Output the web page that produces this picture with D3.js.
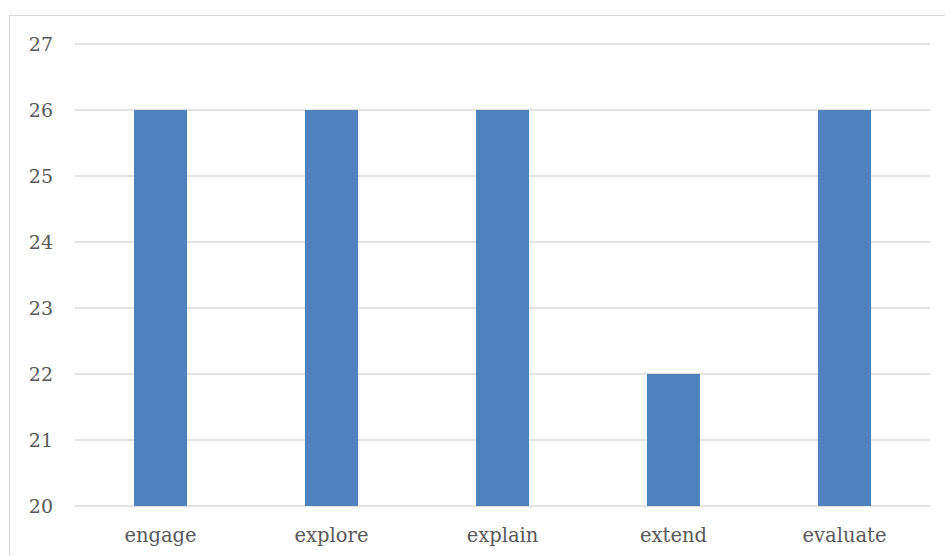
<!DOCTYPE html>
<html>
<head>
<meta charset="utf-8">
<script src="https://cdn.jsdelivr.net/npm/d3@7"></script>
<style>
  html, body { margin: 0; padding: 0; background: #fff; }
  svg { display: block; }
</style>
</head>
<body>
<svg id="chart" width="945" height="556"></svg>
<script>
// Phase categories and their scores
const categories = ["engage", "explore", "explain", "extend", "evaluate"];
const values = [26, 26, 26, 22, 26];
const yTicks = [20, 21, 22, 23, 24, 25, 26, 27];

const svg = d3.select("#chart");
const W = 945, H = 556;
const margin = { left: 75, right: 15, top: 44, bottom: 50 };

// Chart-area frame
svg.append("rect")
  .attr("x", 9.5).attr("y", 15.5)
  .attr("width", 960).attr("height", 600)
  .attr("fill", "#fff")
  .attr("stroke", "#d9d9d9").attr("stroke-width", 1);

const x = d3.scaleBand()
  .domain(categories)
  .range([margin.left, W - margin.right])
  .paddingInner(0.69)
  .paddingOuter(0.345);

const y = d3.scaleLinear()
  .domain([20, 27])
  .range([H - margin.bottom, margin.top]);

// Horizontal gridlines
svg.append("g")
  .selectAll("line")
  .data(yTicks)
  .join("line")
  .attr("x1", margin.left).attr("x2", W - margin.right)
  .attr("y1", d => y(d)).attr("y2", d => y(d))
  .attr("stroke", "#d9d9d9").attr("stroke-width", 1.3);

// Bars
svg.append("g")
  .selectAll("rect")
  .data(categories.map((c, i) => ({ c, v: values[i] })))
  .join("rect")
  .attr("x", d => x(d.c))
  .attr("width", x.bandwidth())
  .attr("y", d => y(d.v))
  .attr("height", d => y(20) - y(d.v))
  .attr("fill", "#4f81bd");

// Y axis labels
const yAxis = d3.axisLeft(y).tickValues(yTicks).tickSize(0).tickPadding(0).tickFormat(d3.format("d"));
svg.append("g")
  .attr("transform", `translate(${53},0)`)
  .call(yAxis)
  .call(g => g.select(".domain").remove())
  .selectAll("text")
  .attr("fill", "#595959")
  .attr("font-family", "'DejaVu Serif', serif")
  .attr("font-size", 19);

// X axis labels
const xAxis = d3.axisBottom(x).tickSize(0).tickPadding(0);
svg.append("g")
  .attr("transform", `translate(0,${H - margin.bottom + 22})`)
  .call(xAxis)
  .call(g => g.select(".domain").remove())
  .selectAll("text")
  .attr("fill", "#595959")
  .attr("font-family", "'DejaVu Serif', serif")
  .attr("font-size", 19.5);
</script>
</body>
</html>
